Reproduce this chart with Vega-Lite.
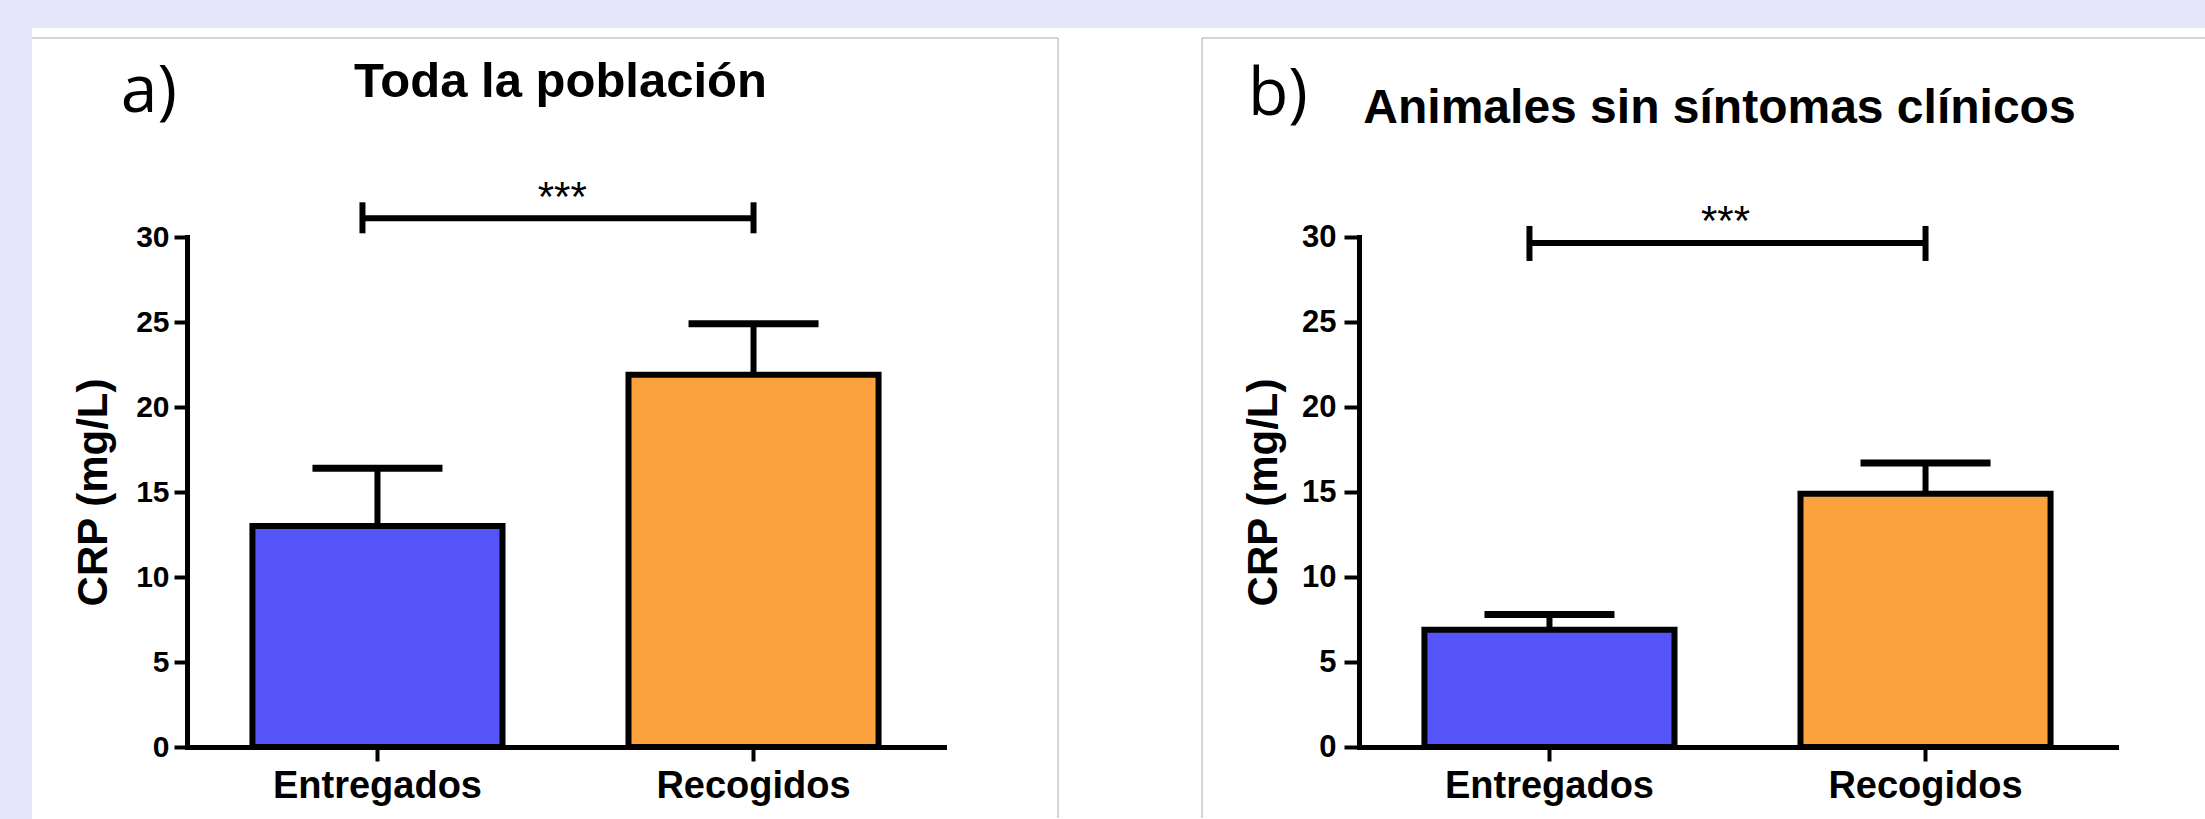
{
  "$schema": "https://vega.github.io/schema/vega-lite/v6.json",
  "background": "#E6E6FA",
  "padding": {"left": 31, "top": 28, "right": 0, "bottom": 0},
  "bounds": "flush",
  "spacing": 415,
  "config": {
    "font": "Liberation Sans",
    "view": {"stroke": null},
    "axis": {"grid": false, "domainColor": "black", "tickColor": "black", "labelColor": "black", "titleColor": "black", "domainCap": "square", "zindex": 1, "labelLimit": 0}
  },
  "hconcat": [
    {
      "width": 757,
      "height": 510,
      "layer": [
        {
          "data": {"values": [{"panel": "a)", "title": "Toda la población"}]},
          "layer": [
            {"mark": {"type": "rect", "fill": "white"},
             "encoding": {
               "x": {"datum": -0.2048, "type": "quantitative", "scale": {"domain": [0, 1], "nice": false, "zero": false}, "axis": null},
               "x2": {"datum": 2.6671},
               "y": {"datum": 42.29, "type": "quantitative", "scale": {"domain": [0, 30], "nice": false, "zero": false}, "axis": null},
               "y2": {"datum": -4.23}}},
            {"mark": {"type": "rule", "color": "#C6C6C6", "strokeWidth": 1.5},
             "encoding": {
               "x": {"datum": -0.2048, "type": "quantitative", "scale": {"domain": [0, 1], "nice": false, "zero": false}, "axis": null},
               "x2": {"datum": 1.1506},
               "y": {"datum": 41.71, "type": "quantitative", "scale": {"domain": [0, 30], "nice": false, "zero": false}, "axis": null}}},
            {"mark": {"type": "rule", "color": "#C6C6C6", "strokeWidth": 1.5},
             "encoding": {
               "x": {"datum": 1.1506, "type": "quantitative", "scale": {"domain": [0, 1], "nice": false, "zero": false}, "axis": null},
               "y": {"datum": 41.71, "type": "quantitative", "scale": {"domain": [0, 30], "nice": false, "zero": false}, "axis": null},
               "y2": {"datum": -4.18}}},
            {"mark": {"type": "text", "font": "Open Sans", "fontSize": 66, "align": "left", "baseline": "alphabetic", "color": "black"},
             "encoding": {
               "x": {"datum": -0.0875, "type": "quantitative", "scale": {"domain": [0, 1], "nice": false, "zero": false}, "axis": null},
               "y": {"datum": 37.35, "type": "quantitative", "scale": {"domain": [0, 30], "nice": false, "zero": false}, "axis": null},
               "text": {"field": "panel"}}},
            {"mark": {"type": "text", "font": "Liberation Sans", "fontSize": 49, "fontWeight": "bold", "align": "center", "baseline": "alphabetic", "color": "black"},
             "encoding": {
               "x": {"datum": 0.4934, "type": "quantitative", "scale": {"domain": [0, 1], "nice": false, "zero": false}, "axis": null},
               "y": {"datum": 38.235, "type": "quantitative", "scale": {"domain": [0, 30], "nice": false, "zero": false}, "axis": null},
               "text": {"field": "title"}}}
          ]
        },
        {
          "layer": [
            {
              "data": {"values": [
                {"group": "Entregados", "crp": 13.0, "upper": 16.4},
                {"group": "Recogidos", "crp": 21.9, "upper": 24.9}
              ]},
              "layer": [
                {"mark": {"type": "bar", "stroke": "black", "strokeWidth": 6},
                 "encoding": {
                   "x": {"field": "group", "type": "nominal", "title": null, "sort": null,
                         "scale": {"domain": ["Entregados", "Recogidos"], "paddingInner": 0.335, "paddingOuter": 0.174},
                         "axis": {"zindex": 1, "labelAngle": 0, "labelFontSize": 38, "labelFontWeight": "bold", "labelPadding": 6, "tickSize": 14, "tickWidth": 4, "domainWidth": 5}},
                   "y": {"field": "crp", "type": "quantitative", "title": "CRP (mg/L)",
                         "scale": {"domain": [0, 30], "nice": false},
                         "axis": {"zindex": 1, "values": [0, 5, 10, 15, 20, 25, 30], "labelFontSize": 30, "labelFontWeight": "bold", "labelPadding": 5, "tickSize": 13, "tickWidth": 4, "domainWidth": 5, "titleFontSize": 42, "titleFontWeight": "bold", "titlePadding": 20}},
                   "fill": {"field": "group", "type": "nominal", "legend": null,
                            "scale": {"domain": ["Entregados", "Recogidos"], "range": ["#5454F8", "#FBA23F"]}}}},
                {"mark": {"type": "rule", "color": "black", "strokeWidth": 6},
                 "encoding": {
                   "x": {"field": "group", "type": "nominal", "title": null},
                   "y": {"field": "crp", "type": "quantitative", "title": "CRP (mg/L)"},
                   "y2": {"field": "upper"}}},
                {"mark": {"type": "tick", "color": "black", "opacity": 1, "size": 130, "thickness": 7},
                 "encoding": {
                   "x": {"field": "group", "type": "nominal", "title": null},
                   "y": {"field": "upper", "type": "quantitative", "title": "CRP (mg/L)"}}}
              ]
            },
            {
              "data": {"values": [{"from": "Entregados", "to": "Recogidos", "y": 31.1, "label": "***"}]},
              "layer": [
                {"mark": {"type": "rule", "color": "black", "strokeWidth": 6},
                 "encoding": {
                   "x": {"field": "from", "type": "nominal", "title": null, "bandPosition": 0.44},
                   "x2": {"field": "to"},
                   "y": {"field": "y", "type": "quantitative", "title": "CRP (mg/L)"}}},
                {"mark": {"type": "rule", "color": "black", "strokeWidth": 6, "yOffset": -16, "y2Offset": 15},
                 "encoding": {
                   "x": {"field": "from", "type": "nominal", "title": null, "bandPosition": 0.44},
                   "y": {"field": "y", "type": "quantitative", "title": "CRP (mg/L)"},
                   "y2": {"field": "y"}}},
                {"mark": {"type": "rule", "color": "black", "strokeWidth": 6, "yOffset": -16, "y2Offset": 15},
                 "encoding": {
                   "x": {"field": "to", "type": "nominal", "title": null},
                   "y": {"field": "y", "type": "quantitative", "title": "CRP (mg/L)"},
                   "y2": {"field": "y"}}},
                {"mark": {"type": "text", "fontSize": 42, "baseline": "middle", "align": "center", "dy": -20, "color": "black"},
                 "encoding": {
                   "x": {"field": "to", "type": "nominal", "title": null, "bandPosition": -0.265},
                   "y": {"field": "y", "type": "quantitative", "title": "CRP (mg/L)"},
                   "text": {"field": "label"}}}
              ]
            }
          ]
        }
      ],
      "resolve": {"scale": {"x": "independent", "y": "independent"}, "axis": {"x": "independent", "y": "independent"}}
    },
    {
      "width": 757,
      "height": 510,
      "layer": [
        {
          "data": {"values": [{"panel": "b)", "title": "Animales sin síntomas clínicos"}]},
          "layer": [
            {"mark": {"type": "rule", "color": "#C6C6C6", "strokeWidth": 1.5},
             "encoding": {
               "x": {"datum": -0.2074, "type": "quantitative", "scale": {"domain": [0, 1], "nice": false, "zero": false}, "axis": null},
               "x2": {"datum": 1.1176},
               "y": {"datum": 41.71, "type": "quantitative", "scale": {"domain": [0, 30], "nice": false, "zero": false}, "axis": null}}},
            {"mark": {"type": "rule", "color": "#C6C6C6", "strokeWidth": 1.5},
             "encoding": {
               "x": {"datum": -0.2074, "type": "quantitative", "scale": {"domain": [0, 1], "nice": false, "zero": false}, "axis": null},
               "y": {"datum": 41.71, "type": "quantitative", "scale": {"domain": [0, 30], "nice": false, "zero": false}, "axis": null},
               "y2": {"datum": -4.18}}},
            {"mark": {"type": "text", "font": "Open Sans", "fontSize": 66, "align": "left", "baseline": "alphabetic", "color": "black"},
             "encoding": {
               "x": {"datum": -0.1467, "type": "quantitative", "scale": {"domain": [0, 1], "nice": false, "zero": false}, "axis": null},
               "y": {"datum": 37.18, "type": "quantitative", "scale": {"domain": [0, 30], "nice": false, "zero": false}, "axis": null},
               "text": {"field": "panel"}}},
            {"mark": {"type": "text", "font": "Liberation Sans", "fontSize": 48, "fontWeight": "bold", "align": "center", "baseline": "alphabetic", "color": "black"},
             "encoding": {
               "x": {"datum": 0.4762, "type": "quantitative", "scale": {"domain": [0, 1], "nice": false, "zero": false}, "axis": null},
               "y": {"datum": 36.71, "type": "quantitative", "scale": {"domain": [0, 30], "nice": false, "zero": false}, "axis": null},
               "text": {"field": "title"}}}
          ]
        },
        {
          "layer": [
            {
              "data": {"values": [
                {"group": "Entregados", "crp": 6.9, "upper": 7.8},
                {"group": "Recogidos", "crp": 14.9, "upper": 16.7}
              ]},
              "layer": [
                {"mark": {"type": "bar", "stroke": "black", "strokeWidth": 6},
                 "encoding": {
                   "x": {"field": "group", "type": "nominal", "title": null, "sort": null,
                         "scale": {"domain": ["Entregados", "Recogidos"], "paddingInner": 0.335, "paddingOuter": 0.174},
                         "axis": {"zindex": 1, "labelAngle": 0, "labelFontSize": 38, "labelFontWeight": "bold", "labelPadding": 6, "tickSize": 14, "tickWidth": 4, "domainWidth": 5}},
                   "y": {"field": "crp", "type": "quantitative", "title": "CRP (mg/L)",
                         "scale": {"domain": [0, 30], "nice": false},
                         "axis": {"zindex": 1, "values": [0, 5, 10, 15, 20, 25, 30], "labelFontSize": 31, "labelFontWeight": "bold", "labelPadding": 8, "tickSize": 15, "tickWidth": 4, "domainWidth": 5, "titleFontSize": 42, "titleFontWeight": "bold", "titlePadding": 16}},
                   "fill": {"field": "group", "type": "nominal", "legend": null,
                            "scale": {"domain": ["Entregados", "Recogidos"], "range": ["#5454F8", "#FBA23F"]}}}},
                {"mark": {"type": "rule", "color": "black", "strokeWidth": 6},
                 "encoding": {
                   "x": {"field": "group", "type": "nominal", "title": null},
                   "y": {"field": "crp", "type": "quantitative", "title": "CRP (mg/L)"},
                   "y2": {"field": "upper"}}},
                {"mark": {"type": "tick", "color": "black", "opacity": 1, "size": 130, "thickness": 7},
                 "encoding": {
                   "x": {"field": "group", "type": "nominal", "title": null},
                   "y": {"field": "upper", "type": "quantitative", "title": "CRP (mg/L)"}}}
              ]
            },
            {
              "data": {"values": [{"from": "Entregados", "to": "Recogidos", "y": 29.65, "label": "***"}]},
              "layer": [
                {"mark": {"type": "rule", "color": "black", "strokeWidth": 6},
                 "encoding": {
                   "x": {"field": "from", "type": "nominal", "title": null, "bandPosition": 0.42},
                   "x2": {"field": "to"},
                   "y": {"field": "y", "type": "quantitative", "title": "CRP (mg/L)"}}},
                {"mark": {"type": "rule", "color": "black", "strokeWidth": 6, "yOffset": -17, "y2Offset": 18},
                 "encoding": {
                   "x": {"field": "from", "type": "nominal", "title": null, "bandPosition": 0.42},
                   "y": {"field": "y", "type": "quantitative", "title": "CRP (mg/L)"},
                   "y2": {"field": "y"}}},
                {"mark": {"type": "rule", "color": "black", "strokeWidth": 6, "yOffset": -17, "y2Offset": 18},
                 "encoding": {
                   "x": {"field": "to", "type": "nominal", "title": null},
                   "y": {"field": "y", "type": "quantitative", "title": "CRP (mg/L)"},
                   "y2": {"field": "y"}}},
                {"mark": {"type": "text", "fontSize": 42, "baseline": "middle", "align": "center", "dy": -21, "color": "black"},
                 "encoding": {
                   "x": {"field": "to", "type": "nominal", "title": null, "bandPosition": -0.3},
                   "y": {"field": "y", "type": "quantitative", "title": "CRP (mg/L)"},
                   "text": {"field": "label"}}}
              ]
            }
          ]
        }
      ],
      "resolve": {"scale": {"x": "independent", "y": "independent"}, "axis": {"x": "independent", "y": "independent"}}
    }
  ]
}
